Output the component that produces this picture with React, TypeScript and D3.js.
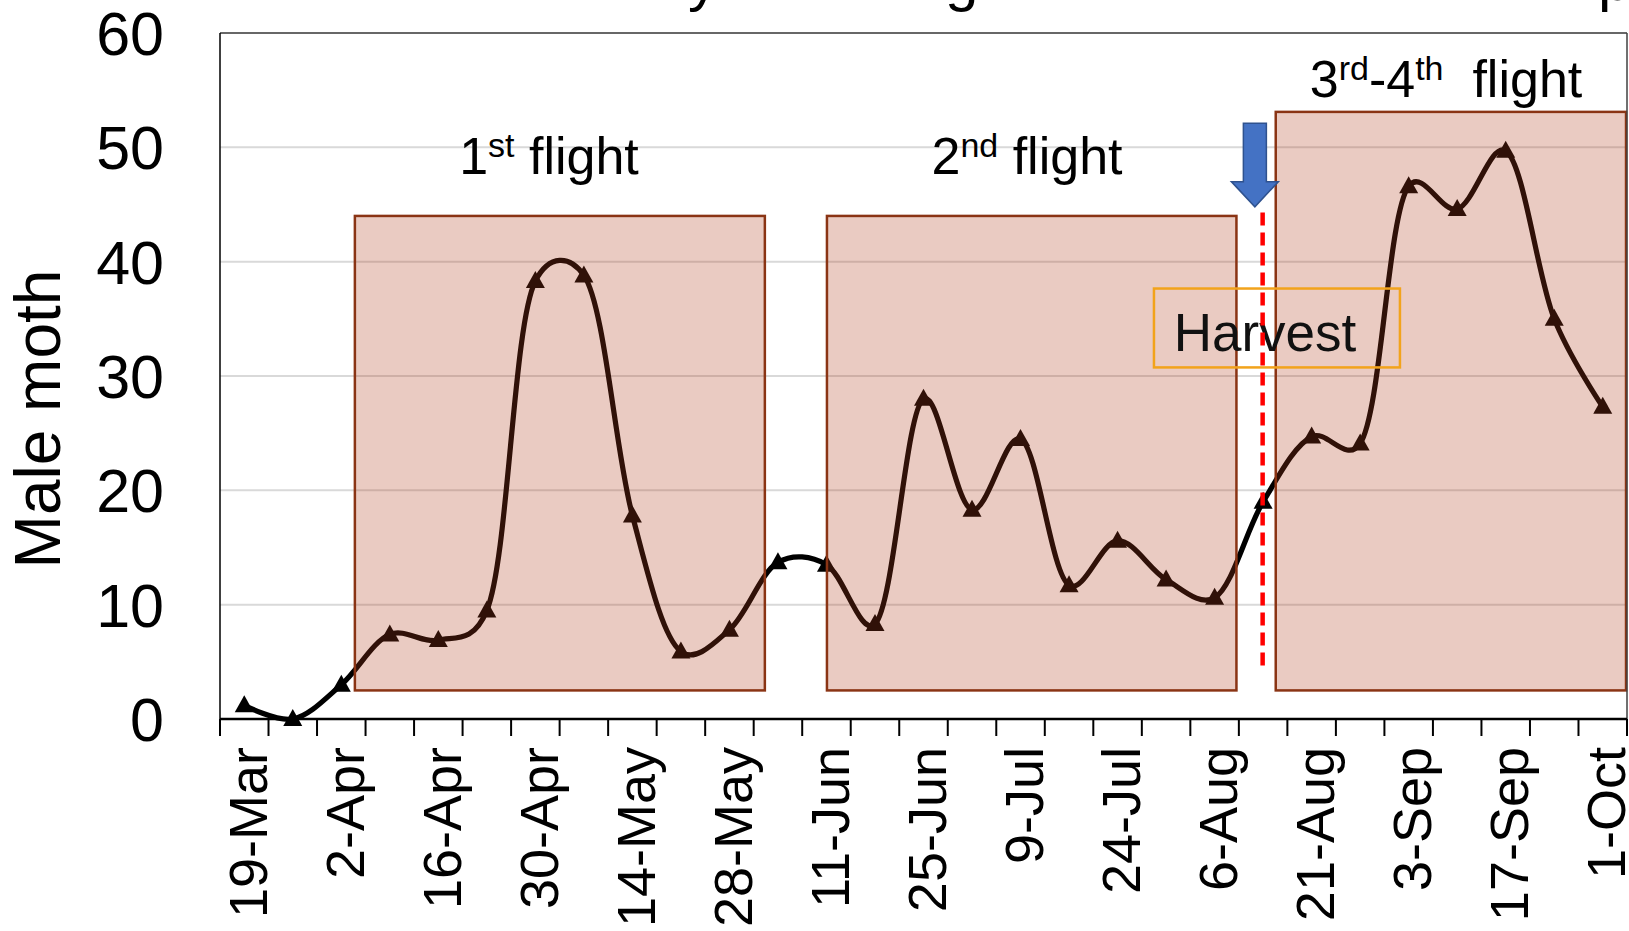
import React from "react";
import * as d3 from "d3";

// ---- data ----
// weekly trap dates (every other one is labelled on the axis)
const dates = [
  "19-Mar", "26-Mar", "2-Apr", "9-Apr", "16-Apr", "23-Apr", "30-Apr", "7-May",
  "14-May", "21-May", "28-May", "4-Jun", "11-Jun", "18-Jun", "25-Jun", "2-Jul",
  "9-Jul", "16-Jul", "24-Jul", "31-Jul", "6-Aug", "14-Aug", "21-Aug", "28-Aug",
  "3-Sep", "10-Sep", "17-Sep", "24-Sep", "1-Oct",
];
const labelledDates = [
  "19-Mar", "2-Apr", "16-Apr", "30-Apr", "14-May", "28-May", "11-Jun", "25-Jun",
  "9-Jul", "24-Jul", "6-Aug", "21-Aug", "3-Sep", "17-Sep", "1-Oct",
];
const maleMoth = [
  1.2, 0, 3, 7.4, 6.9, 9.5, 38.3, 38.8, 17.8, 5.9, 7.8, 13.7, 13.5, 8.3, 28, 18.3,
  24.5, 11.7, 15.6, 12.2, 10.6, 19, 24.7, 24.1, 46.6, 44.6, 49.7, 35, 27.3,
];
const yTicks = [0, 10, 20, 30, 40, 50, 60];

// flight periods (category-index span, top value)
const flightStart = [2.78, 12.51, 21.76];
const flightEnd = [11.23, 20.95, 28.98];
const flightTop = [44, 44, 53.1];
const flightBottom = 2.5;
const harvestIndex = 21.49;

// ---- layout ----
const W = 1629;
const H = 931;
const L = 220;
const R = 1627;
const T = 33;
const B = 719;
const FONT = "Arial, 'Liberation Sans', Helvetica, sans-serif";

export default function App() {
  const x = d3.scaleBand<string>().domain(dates).range([L, R]).padding(0);
  const xi = d3.scaleLinear().domain([0, dates.length]).range([L, R]);
  const y = d3.scaleLinear().domain([0, 60]).range([B, T]);
  const cx = (d: string) => (x(d) as number) + x.bandwidth() / 2;

  const pts: [number, number][] = maleMoth.map((v, i) => [cx(dates[i]), y(v)]);
  const line = d3.line().curve(d3.curveCatmullRom.alpha(0.25))(pts) || "";

  const tri = (px: number, py: number) =>
    `M${px},${py - 10} L${px + 9.5},${py + 7} L${px - 9.5},${py + 7} Z`;

  const boxFill = "rgba(178,63,29,0.27)";
  const boxStroke = "#8A3414";

  const hx = xi(harvestIndex);
  const arrowTop = y(52.1);
  const arrowHead = y(47.0);
  const arrowTip = y(44.8);
  const ax = xi(21.33);

  const boundaries = d3.range(dates.length + 1).map((i) => xi(i));

  return (
    <svg
      width={W}
      height={H}
      style={{ position: "absolute", left: 0, top: 0, background: "#fff" }}
      fontFamily={FONT}
    >
      {/* title, mostly cropped above the frame */}
      <text fontSize={60} y={0} fill="#000">
        <tspan x={688}>y</tspan>
        <tspan x={945}>g</tspan>
        <tspan x={1598}>p</tspan>
      </text>

      {/* gridlines */}
      {yTicks.map((t) => (
        <line key={t} x1={L} x2={R} y1={y(t)} y2={y(t)} stroke="#D9D9D9" strokeWidth={2} />
      ))}

      {/* series */}
      <path d={line} fill="none" stroke="#000" strokeWidth={5.2} />
      {pts.map(([px, py], i) => (
        <path key={i} d={tri(px, py)} fill="#000" />
      ))}

      {/* flight boxes */}
      {flightStart.map((s, i) => (
        <rect
          key={i}
          x={xi(s)}
          y={y(flightTop[i])}
          width={xi(flightEnd[i]) - xi(s)}
          height={y(flightBottom) - y(flightTop[i])}
          fill={boxFill}
          stroke={boxStroke}
          strokeWidth={2.5}
        />
      ))}

      {/* harvest label */}
      <rect
        x={xi(19.25)}
        y={y(37.65)}
        width={xi(24.32) - xi(19.25)}
        height={y(30.75) - y(37.65)}
        fill="none"
        stroke="#F2A31B"
        strokeWidth={2.5}
      />
      <text x={1265} y={351} fontSize={53} textAnchor="middle" fill="#111">
        Harvest
      </text>
      <line
        x1={hx}
        x2={hx}
        y1={y(44.3)}
        y2={y(4.3)}
        stroke="#FF0000"
        strokeWidth={4.5}
        strokeDasharray="13,7"
      />
      <path
        d={`M${ax - 11.5},${arrowTop} L${ax + 11.5},${arrowTop} L${ax + 11.5},${arrowHead} L${ax + 23.5},${arrowHead} L${ax},${arrowTip} L${ax - 23.5},${arrowHead} L${ax - 11.5},${arrowHead} Z`}
        fill="#4472C4"
        stroke="#2F528F"
        strokeWidth={1.5}
      />

      {/* flight labels */}
      <text x={549} y={173.5} fontSize={52} textAnchor="middle" fill="#000">
        1<tspan fontSize={34} dy={-17}>st</tspan>
        <tspan dy={17}> flight</tspan>
      </text>
      <text x={1027} y={173.5} fontSize={52} textAnchor="middle" fill="#000">
        2<tspan fontSize={34} dy={-17}>nd</tspan>
        <tspan dy={17}> flight</tspan>
      </text>
      <text x={1446} y={96.6} fontSize={52} textAnchor="middle" fill="#000">
        3<tspan fontSize={34} dy={-17}>rd</tspan>
        <tspan dy={17}>-4</tspan>
        <tspan fontSize={34} dy={-17}>th</tspan>
        <tspan dy={17}>{"\u00A0 flight"}</tspan>
      </text>

      {/* plot frame */}
      <line x1={L} x2={R} y1={T} y2={T} stroke="#404040" strokeWidth={1.5} />
      <line x1={R} x2={R} y1={T} y2={B} stroke="#404040" strokeWidth={1.5} />
      <line x1={L} x2={L} y1={T} y2={B} stroke="#000" strokeWidth={1.5} />
      <line x1={L} x2={R} y1={B} y2={B} stroke="#000" strokeWidth={2.5} />
      {boundaries.map((bx, i) => (
        <line key={i} x1={bx} x2={bx} y1={B} y2={B + 17} stroke="#000" strokeWidth={2} />
      ))}

      {/* y axis labels */}
      {yTicks.map((t) => (
        <text key={t} x={164} y={y(t)} dy="0.36em" fontSize={61} textAnchor="end" fill="#000">
          {t}
        </text>
      ))}
      <text
        transform={`translate(37,419) rotate(-90)`}
        fontSize={64}
        textAnchor="middle"
        dy="0.36em"
        fill="#000"
      >
        Male moth
      </text>

      {/* x axis labels */}
      {labelledDates.map((d) => (
        <text
          key={d}
          transform={`translate(${cx(d) + 3},747) rotate(-90)`}
          fontSize={54}
          textAnchor="end"
          dy="0.36em"
          fill="#000"
        >
          {d}
        </text>
      ))}
    </svg>
  );
}
